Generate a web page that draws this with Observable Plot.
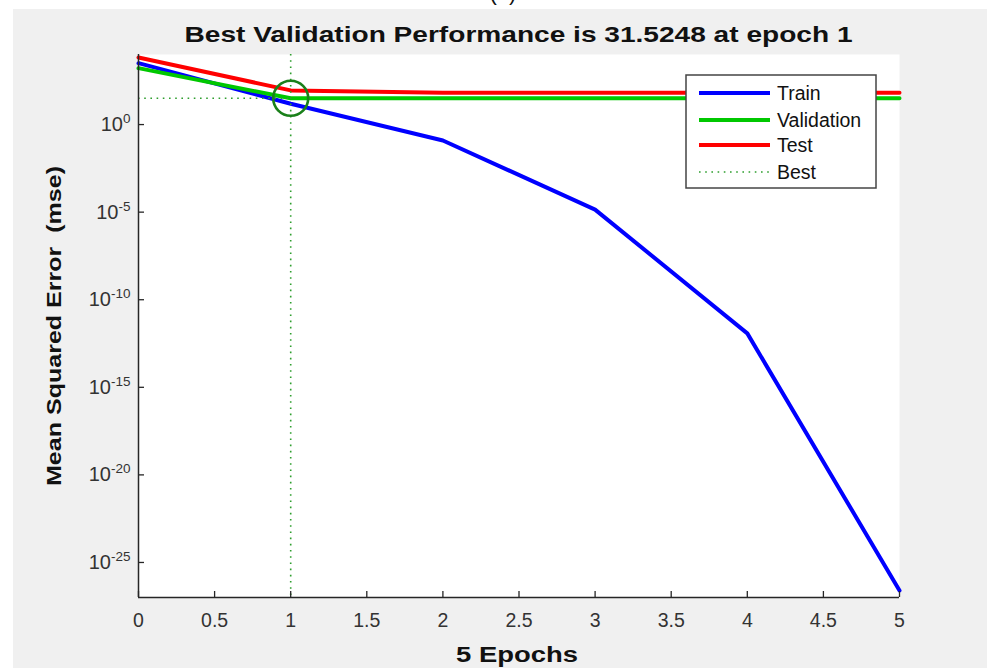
<!DOCTYPE html>
<html><head><meta charset="utf-8">
<script src="https://cdn.jsdelivr.net/npm/d3@7"></script>
<script src="https://cdn.jsdelivr.net/npm/@observablehq/plot@0.6"></script>
<style>
body{margin:0;background:#fff;width:987px;height:668px;overflow:hidden;position:relative;font-family:"Liberation Sans",Arial,sans-serif;}
#bg{position:absolute;left:13px;top:9px;width:974px;height:659px;background:#f0f0f0;}
#chart{position:absolute;left:0;top:0;}
</style></head><body>
<div id="bg"></div><div id="chart"></div>
<script>
// ---- data ----
const epochs = [0, 1, 2, 3, 4, 5];
const train = [3.2e3, 15.5, 0.123, 1.4e-5, 1.2e-12, 2.5e-27];
const validation = [1.66e3, 31.5248, 31.6, 31.6, 31.6, 31.6];
const test = [6.8e3, 89, 65, 65, 65, 65];
const bestEpoch = 1;
const bestPerf = 31.5248;
const xTicks = [0, 0.5, 1, 1.5, 2, 2.5, 3, 3.5, 4, 4.5, 5];
const yTicks = [1e0, 1e-5, 1e-10, 1e-15, 1e-20, 1e-25];
const yTickExponents = ["0", "-5", "-10", "-15", "-20", "-25"];
const legendNames = ["Train", "Validation", "Test", "Best"];
const titleText = "Best Validation Performance is 31.5248 at epoch 1";
const xLabel = "5 Epochs";
const yLabel = "Mean Squared Error  (mse)";

const C = {train:"#0000ff", val:"#00c800", test:"#ff0000", best:"#2e9e2e", circle:"#1a801a", axis:"#262626"};

const plot = Plot.plot({
  width: 987, height: 668,
  marginLeft: 138, marginRight: 88, marginTop: 54, marginBottom: 71,
  style: {background: "none", fontFamily: "'Liberation Sans', Arial, sans-serif", fontSize: "18px", color: C.axis, overflow: "visible"},
  x: {domain: [0, 5]},
  y: {type: "log", domain: [1e-27, 1e4]},
  marks: [
    Plot.frame({fill: "white", stroke: "none"}),
    Plot.lineY(epochs, {x: epochs, y: train, stroke: C.train, strokeWidth: 4}),
    Plot.lineY(epochs, {x: epochs, y: validation, stroke: C.val, strokeWidth: 4}),
    Plot.lineY(epochs, {x: epochs, y: test, stroke: C.test, strokeWidth: 4}),
    Plot.ruleX([bestEpoch], {stroke: C.best, strokeWidth: 1.6, strokeDasharray: "1.6,4.6"}),
    Plot.ruleY([bestPerf], {x1: 0, x2: bestEpoch, stroke: C.best, strokeWidth: 1.6, strokeDasharray: "1.6,4.6"}),
    Plot.dot([bestPerf], {x: [bestEpoch], y: [bestPerf], r: 17.5, stroke: C.circle, strokeWidth: 2.6, fill: "none"}),
    Plot.axisX({ticks: xTicks, tickSize: -6, tickPadding: 22, tickFormat: d => String(d), label: null, stroke: C.axis, strokeWidth: 1.3}),
    Plot.axisY({ticks: yTicks, tickSize: -6, tickPadding: 14, tickFormat: d => "10^" + yTickExponents[yTicks.indexOf(d)], label: null, stroke: C.axis, strokeWidth: 1.3}),
    Plot.ruleX([0], {stroke: C.axis, strokeWidth: 1.5}),
    Plot.ruleY([1e-27], {stroke: C.axis, strokeWidth: 1.5})
  ]
});
document.getElementById("chart").appendChild(plot);
const svg = d3.select(plot);

svg.selectAll('[aria-label="x-axis tick label"] text').style("font-size", "19.5px").style("fill", "#333");
svg.selectAll('[aria-label="y-axis tick label"] text').style("font-size", "20px").style("fill", "#333");

// superscript y tick labels
svg.selectAll('[aria-label="y-axis tick label"] text').each(function() {
  const t = d3.select(this);
  const s = t.text();
  const exp = s.split("^")[1];
  t.text(null);
  t.append("tspan").text("10");
  t.append("tspan").attr("dy", "-8").style("font-size", "13.5px").text(exp);
});

// title, labels
svg.append("text").attr("x", 518.5).attr("y", 42).attr("text-anchor", "middle")
  .attr("font-size", 22).attr("font-weight", "bold").attr("fill", "#111")
  .attr("textLength", 668).attr("lengthAdjust", "spacingAndGlyphs").text(titleText);
svg.append("text").attr("x", 503).attr("y", 0).attr("text-anchor", "middle")
  .attr("font-size", 22).attr("fill", "#111").text("(b)");
svg.append("text").attr("x", 517).attr("y", 662).attr("text-anchor", "middle")
  .attr("font-size", 22).attr("font-weight", "bold").attr("fill", "#111")
  .attr("textLength", 122).attr("lengthAdjust", "spacingAndGlyphs").text(xLabel);
svg.append("text").attr("transform", "translate(61,326) rotate(-90)").attr("text-anchor", "middle")
  .attr("font-size", 21).attr("font-weight", "bold").attr("fill", "#111")
  .attr("textLength", 320).attr("lengthAdjust", "spacingAndGlyphs").text(yLabel);

// legend
const lg = svg.append("g").attr("text-anchor", "start");
lg.append("rect").attr("x", 686).attr("y", 75).attr("width", 190).attr("height", 113)
  .attr("fill", "white").attr("stroke", "#444").attr("stroke-width", 1.5);
const rowsY = [93, 120, 145, 172];
const lstyles = [
  {c: C.train, w: 4, d: null},
  {c: C.val, w: 4, d: null},
  {c: C.test, w: 4, d: null},
  {c: C.best, w: 1.6, d: "1.6,4.6"}
];
legendNames.forEach((n, i) => {
  lg.append("line").attr("x1", 699).attr("x2", 770).attr("y1", rowsY[i]).attr("y2", rowsY[i])
    .attr("stroke", lstyles[i].c).attr("stroke-width", lstyles[i].w).attr("stroke-dasharray", lstyles[i].d);
  lg.append("text").attr("x", 777).attr("y", rowsY[i]).attr("dy", "0.35em").attr("text-anchor", "start")
    .style("font-size", "19.5px").attr("fill", "#111").text(n);
});
</script></body></html>
